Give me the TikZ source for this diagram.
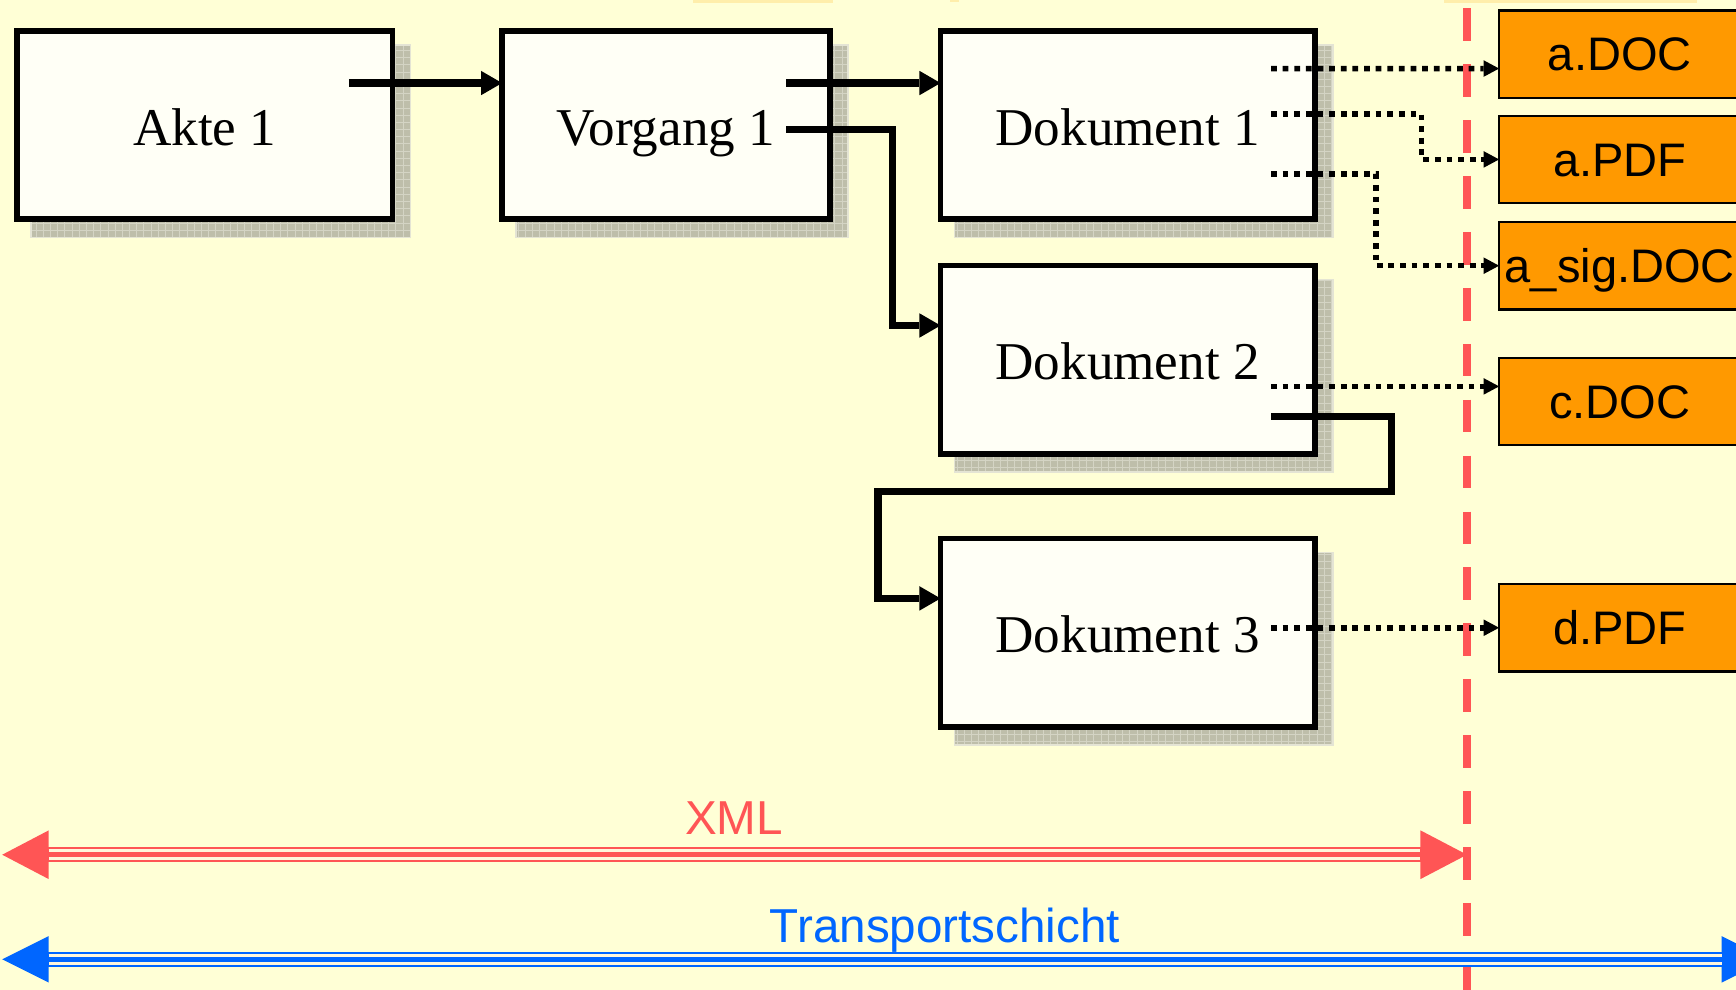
\documentclass[tikz,border=0pt]{standalone}
\usepackage{fontspec}
\setmainfont{Liberation Serif}
\newfontfamily\arialfont{Liberation Sans}
\usetikzlibrary{arrows.meta,backgrounds,calc}
\definecolor{bgc}{RGB}{255,255,214}
\definecolor{boxfill}{RGB}{255,255,246}
\definecolor{shadowc}{RGB}{190,190,170}
\definecolor{shadowgrid}{RGB}{212,212,196}
\definecolor{shadowedge}{RGB}{228,228,212}
\definecolor{orangec}{RGB}{255,153,0}
\definecolor{xmlred}{RGB}{255,85,85}
\definecolor{tblue}{RGB}{0,102,255}
\definecolor{cream}{RGB}{255,246,220}
\definecolor{smudge}{RGB}{255,222,130}
\begin{document}
\begin{tikzpicture}[x=1pt,y=-1pt,
  papbox/.style={draw, line width=5pt, fill=boxfill, rectangle, outer sep=0pt, inner sep=0pt,
    minimum height=170pt, text height=36pt, text depth=0pt, font=\fontsize{48}{56}\selectfont},
  filebox/.style={draw, line width=2pt, fill=orangec, rectangle, outer sep=0pt, inner sep=0pt,
    minimum width=218pt, minimum height=79pt, text height=30pt, text depth=0pt,
    font=\arialfont\fontsize{42.5}{50}\selectfont},
  flow/.style={line width=6.5pt, -{Triangle[length=19pt,width=22pt,line width=0pt]}},
  dotflow/.style={line width=5pt, dash pattern=on 5.2pt off 5.3pt, -{Triangle[length=14pt,width=15pt,line width=0pt]}},
  layertext/.style={font=\arialfont\fontsize{43}{50}\selectfont, inner sep=0pt, anchor=base}
]
\useasboundingbox (0,0) rectangle (1568,894);
\clip (0,0) rectangle (1568,894);

% boxes
\node[papbox, minimum width=339pt] (akte) at (185,113) {Akte 1};
\node[papbox, minimum width=296pt] (vorgang) at (601.5,113) {Vorgang 1};
\node[papbox, minimum width=338pt] (dok1) at (1018.5,113) {Dokument 1};
\node[papbox, minimum width=338pt] (dok2) at (1018.5,325) {Dokument 2};
\node[papbox, minimum width=338pt] (dok3) at (1018.5,571.5) {Dokument 3};

% background and shadows
\begin{scope}[on background layer]
  \fill[bgc] (0,0) rectangle (1568,894);
  \fill[smudge, opacity=0.5] (626,0) rectangle (752,3);
  \fill[smudge, opacity=0.5] (858,0) rectangle (866,2);
  \fill[smudge, opacity=0.5] (1304,0) rectangle (1533,3);
  \foreach \n in {akte,vorgang,dok1,dok2,dok3}{
    \fill[shadowc] ([shift={(12pt,-17pt)}]\n.south west) rectangle ([shift={(17pt,-12pt)}]\n.north east);
    \draw[shadowgrid, line width=0.8pt, step=6.5pt] ([shift={(12pt,-17pt)}]\n.south west) grid ([shift={(17pt,-12pt)}]\n.north east);
    \draw[shadowedge, line width=1.2pt] ([shift={(12.6pt,-16.4pt)}]\n.south west) rectangle ([shift={(16.4pt,-12.6pt)}]\n.north east);
  }
\end{scope}

% dashed separator
\coordinate (dtop) at (1325,0);
\coordinate (dbot) at (1325,894);
\draw[xmlred, line width=6.5pt, dash pattern=on 29.5pt off 21pt, dash phase=43pt] (dtop) -- (dbot);

% file boxes
\node[filebox] (adoc) at (1463,48.9) {a.DOC};
\node[filebox] (apdf) at (1463,144) {a.PDF};
\node[filebox] (asig) at (1463,240) {a\_sig.DOC};
\node[filebox] (cdoc) at (1463,362.7) {c.DOC};
\node[filebox] (dpdf) at (1463,567) {d.PDF};

% solid connectors
\draw[flow] ([xshift=130pt,yshift=38pt]akte.center) -- ([yshift=38pt]vorgang.west);
\draw[flow] ([xshift=108.5pt,yshift=38pt]vorgang.center) -- ([yshift=38pt]dok1.west);
\draw[flow] ([xshift=108.5pt,yshift=-4pt]vorgang.center) -- ++(96,0) |- ([yshift=31pt]dok2.west);
\draw[flow] ([xshift=129.5pt,yshift=-51pt]dok2.center) -- ++(109,0) -- ++(0,68) -- ++(-464,0) |- ([yshift=31pt]dok3.west);

% dotted connectors
\draw[dotflow] ([xshift=129.5pt,yshift=51pt]dok1.center) -- ([yshift=-13pt]adoc.west);
\draw[dotflow] ([xshift=129.5pt,yshift=10pt]dok1.center) -- ++(136,0) |- (apdf.west);
\draw[dotflow] ([xshift=129.5pt,yshift=-44pt]dok1.center) -- ++(95,0) |- (asig.west);
\draw[dotflow] ([xshift=129.5pt,yshift=-24pt]dok2.center) -- ([yshift=13.7pt]cdoc.west);
\draw[dotflow] ([xshift=129.5pt,yshift=4.5pt]dok3.center) -- (dpdf.west);

% XML arrow
\coordinate (xl) at (2,772);
\coordinate (xr) at (1325,772);
\fill[xmlred] (xl) -- ++(42,-22) -- ++(0,44) -- cycle;
\fill[xmlred] (xr) -- ++(-42,-22) -- ++(0,44) -- cycle;
\draw[xmlred, line width=14pt, shorten <=41pt, shorten >=41pt] (xl) -- (xr);
\draw[cream, line width=9.5pt, shorten <=42pt, shorten >=42pt] (xl) -- (xr);
\draw[xmlred, line width=4.5pt, shorten <=41pt, shorten >=41pt] (xl) -- (xr);
\node[layertext, text=xmlred] (xmltxt) at (663,754) {XML};

% transport arrow
\coordinate (bl) at (2,866.5);
\coordinate (br) at (1597,866.5);
\fill[tblue] (bl) -- ++(42,-21) -- ++(0,42) -- cycle;
\fill[tblue] (br) -- ++(-42,-21) -- ++(0,42) -- cycle;
\draw[tblue, line width=14pt, shorten <=41pt, shorten >=41pt] (bl) -- (br);
\draw[cream, line width=9.5pt, shorten <=42pt, shorten >=42pt] (bl) -- (br);
\draw[tblue, line width=4.5pt, shorten <=41pt, shorten >=41pt] (bl) -- (br);
\node[layertext, text=tblue] (tstxt) at (853.5,851) {Transportschicht};
\end{tikzpicture}
\end{document}
